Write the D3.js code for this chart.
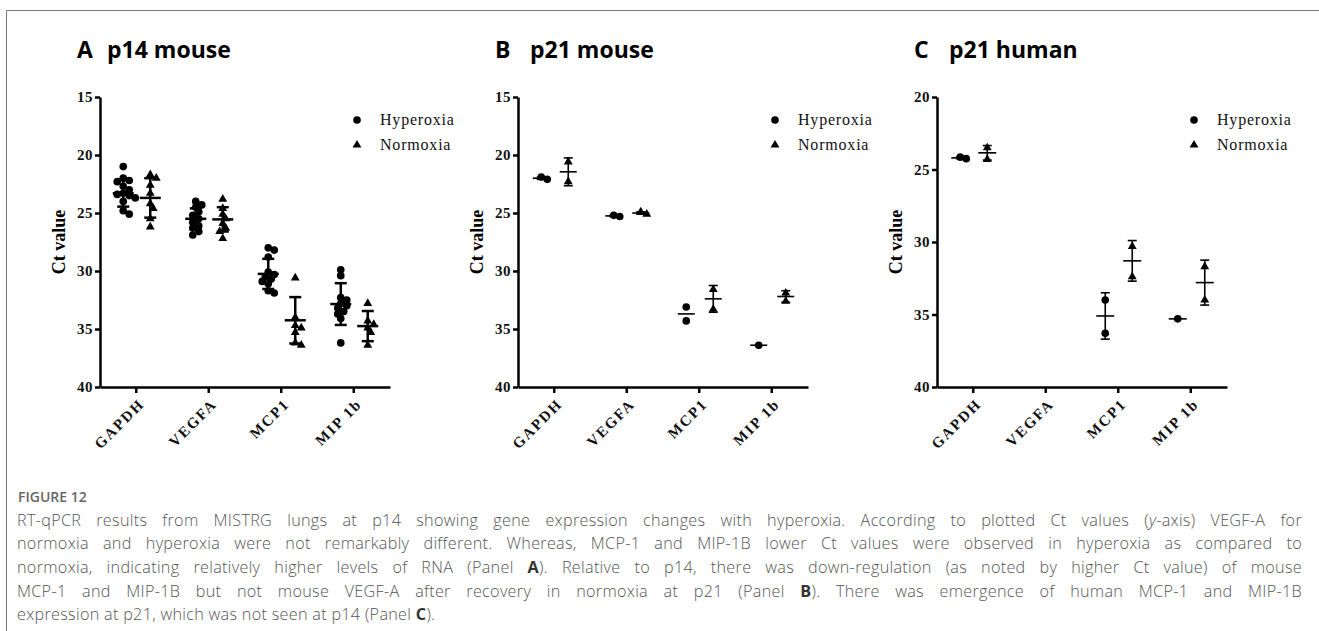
<!DOCTYPE html>
<html>
<head>
<meta charset="utf-8">
<script src="https://cdn.jsdelivr.net/npm/d3@7"></script>
<style>
body { margin: 0; background: #fff; }
svg { display: block; }
</style>
</head>
<body>
<svg id="fig" width="1319" height="631"></svg>
<script>
// categories
const genes = ["GAPDH", "VEGFA", "MCP1", "MIP 1b"];
const groups = ["Hyperoxia", "Normoxia"];

// panel A - p14 mouse (Ct values per gene)
const aHyper = [
  [21.0, 22.0, 22.2, 22.3, 22.7, 23.0, 23.3, 23.4, 23.5, 23.7, 24.0, 24.8, 25.1],
  [24.0, 24.3, 24.5, 24.9, 25.2, 25.5, 25.8, 26.1, 26.3, 26.6, 26.9],
  [28.0, 28.2, 28.8, 30.1, 30.3, 30.5, 30.7, 30.9, 31.1, 31.7, 31.9],
  [29.9, 30.4, 32.3, 32.5, 32.8, 33.0, 33.2, 33.5, 33.7, 34.1, 36.2]
];
const aHyperMean = [23.3, 25.5, 30.25, 32.85];
const aHyperSd = [1.15, 0.9, 1.3, 1.8];
const aNorm = [
  [21.7, 22.0, 22.6, 23.3, 24.2, 24.6, 25.5, 26.2],
  [23.8, 24.6, 25.1, 25.5, 25.9, 26.3, 26.6, 27.2],
  [30.6, 34.0, 34.7, 34.9, 35.3, 36.2, 36.4],
  [32.8, 34.3, 34.6, 34.9, 35.3, 36.4]
];
const aNormMean = [23.7, 25.55, 34.25, 34.75];
const aNormSd = [1.7, 1.05, 2.0, 1.3];

// panel B - p21 mouse
const bHyper = [[21.9, 22.1], [25.2, 25.3], [33.1, 34.3], [36.4]];
const bHyperMean = [22.0, 25.25, 33.7, 36.4];
const bHyperSd = [0.1, 0.05, 0, 0];
const bNorm = [[20.6, 22.3], [24.9, 25.1], [31.6, 33.3], [31.9, 32.6]];
const bNormMean = [21.45, 25.0, 32.4, 32.2];
const bNormSd = [1.2, 0.1, 1.15, 0.5];

// panel C - p21 human (no VEGFA detected)
const cHyper = [[24.15, 24.25], [], [34.0, 36.3], [35.3]];
const cHyperMean = [24.2, null, 35.1, 35.3];
const cHyperSd = [0.05, null, 1.6, 0];
const cNorm = [[23.5, 24.3], [], [30.3, 32.4], [31.7, 34.0]];
const cNormMean = [23.85, null, 31.3, 32.8];
const cNormSd = [0.5, null, 1.4, 1.55];

const ticksA = [15, 20, 25, 30, 35, 40];
const ticksC = [20, 25, 30, 35, 40];

const captionHead = "FIGURE 12";
const captionLines = [
  [["RT-qPCR results from MISTRG lungs at p14 showing gene expression changes with hyperoxia. According to plotted Ct values ("], ["y", "i"], ["-axis) VEGF-A for"]],
  [["normoxia and hyperoxia were not remarkably different. Whereas, MCP-1 and MIP-1B lower Ct values were observed in hyperoxia as compared to"]],
  [["normoxia, indicating relatively higher levels of RNA (Panel "], ["A", "b"], ["). Relative to p14, there was down-regulation (as noted by higher Ct value) of mouse"]],
  [["MCP-1 and MIP-1B but not mouse VEGF-A after recovery in normoxia at p21 (Panel "], ["B", "b"], ["). There was emergence of human MCP-1 and MIP-1B"]],
  [["expression at p21, which was not seen at p14 (Panel "], ["C", "b"], [")."]]
];

const panels = [
  {letter: "A", title: "p14 mouse", x0: 100, ticks: ticksA, hyper: aHyper, hMean: aHyperMean, hSd: aHyperSd,
   norm: aNorm, nMean: aNormMean, nSd: aNormSd, sw: 2.5, meanW: 21, capW: 12, titleGap: 30},
  {letter: "B", title: "p21 mouse", x0: 518, ticks: ticksA, hyper: bHyper, hMean: bHyperMean, hSd: bHyperSd,
   norm: bNorm, nMean: bNormMean, nSd: bNormSd, sw: 1.6, meanW: 17, capW: 9, titleGap: 35},
  {letter: "C", title: "p21 human", x0: 937, ticks: ticksC, hyper: cHyper, hMean: cHyperMean, hSd: cHyperSd,
   norm: cNorm, nMean: cNormMean, nSd: cNormSd, sw: 1.6, meanW: 18, capW: 9, titleGap: 35}
];

const svg = d3.select("#fig");
const serif = "'Liberation Serif', 'Times New Roman', serif";
const sans = "'Open Sans', 'Noto Sans', sans-serif";
const yTop = 97, yBottom = 387, plotW = 290;

// frame
svg.append("line").attr("x1", 6.5).attr("x2", 1319).attr("y1", 10.5).attr("y2", 10.5)
  .attr("stroke", "#777").attr("stroke-width", 1);
svg.append("line").attr("x1", 6.5).attr("x2", 6.5).attr("y1", 10.5).attr("y2", 631)
  .attr("stroke", "#777").attr("stroke-width", 1);

const circleSym = d3.symbol().type(d3.symbolCircle).size(46);
const triSym = d3.symbol().type(d3.symbolTriangle).size(34);

// spread overlapping points sideways, like a scatter dot plot
function spread(vals, y, minD) {
  const pts = vals.map(v => ({v: v, py: y(v)})).sort((a, b) => a.py - b.py);
  const placed = [];
  pts.forEach(d => {
    const cands = [0];
    for (let k = 1; k < 8; k++) cands.push(k * 3, -k * 3);
    d.dx = 0;
    for (const dx of cands) {
      if (placed.every(q => Math.hypot(q.dx - dx, q.py - d.py) >= minD)) { d.dx = dx; break; }
    }
    placed.push(d);
  });
  return pts;
}

function drawPanel(p) {
  const g = svg.append("g");
  const x = d3.scaleBand().domain(genes).range([p.x0, p.x0 + plotW]);
  const y = d3.scaleLinear().domain([p.ticks[0], 40]).range([yTop, yBottom]);

  // title
  g.append("text").attr("x", p.x0 - 23).attr("y", 58).text(p.letter)
    .style("font-family", sans).style("font-weight", 700).style("font-size", "23px");
  g.append("text").attr("x", p.x0 - 23 + p.titleGap).attr("y", 58).text(p.title)
    .style("font-family", sans).style("font-weight", 700).style("font-size", "23px");

  // y axis
  const ya = g.append("g").attr("transform", `translate(${p.x0},0)`)
    .call(d3.axisLeft(y).tickValues(p.ticks).tickSize(5).tickSizeOuter(0).tickPadding(2));
  ya.select(".domain").attr("stroke-width", 2.5);
  ya.selectAll(".tick line").attr("stroke-width", 2.5);
  ya.selectAll(".tick text").style("font-family", serif).style("font-weight", 700)
    .style("font-size", "15px").style("letter-spacing", "0.5px").attr("fill", "#111");

  // x axis
  const xa = g.append("g").attr("transform", `translate(0,${yBottom})`)
    .call(d3.axisBottom(x).tickSize(6).tickSizeOuter(0));
  xa.select(".domain").attr("stroke-width", 2.5);
  xa.selectAll(".tick line").attr("stroke-width", 2.5);
  xa.selectAll(".tick text").attr("y", null).attr("dy", null)
    .attr("text-anchor", "end").attr("transform", "translate(9,18) rotate(-45)")
    .style("font-family", serif).style("font-weight", 700).style("font-size", "15px")
    .style("letter-spacing", "1.8px").attr("fill", "#111");

  // y label
  g.append("text").attr("transform", `translate(${p.x0 - 35},${(yTop + yBottom) / 2}) rotate(-90)`)
    .attr("text-anchor", "middle").text("Ct value")
    .style("font-family", serif).style("font-weight", 700).style("font-size", "18px");

  // groups
  const sets = [
    {vals: p.hyper, mean: p.hMean, sd: p.hSd, off: -13, sym: circleSym},
    {vals: p.norm, mean: p.nMean, sd: p.nSd, off: 14, sym: triSym}
  ];
  sets.forEach(s => {
    genes.forEach((gene, i) => {
      if (s.vals[i].length === 0) return;
      const cx = x(gene) + x.bandwidth() / 2 + s.off;
      const pts = spread(s.vals[i], y, 5.5);
      g.selectAll(null).data(pts).enter().append("path")
        .attr("d", s.sym)
        .attr("transform", d => `translate(${cx + d.dx},${d.py})`)
        .attr("fill", "#000");
      const m = s.mean[i], sd = s.sd[i];
      g.append("line").attr("x1", cx - p.meanW / 2).attr("x2", cx + p.meanW / 2)
        .attr("y1", y(m)).attr("y2", y(m)).attr("stroke", "#000").attr("stroke-width", p.sw);
      if (sd > 0) {
        g.append("line").attr("x1", cx).attr("x2", cx).attr("y1", y(m - sd)).attr("y2", y(m + sd))
          .attr("stroke", "#000").attr("stroke-width", p.sw);
        [m - sd, m + sd].forEach(v => {
          g.append("line").attr("x1", cx - p.capW / 2).attr("x2", cx + p.capW / 2)
            .attr("y1", y(v)).attr("y2", y(v)).attr("stroke", "#000").attr("stroke-width", p.sw);
        });
      }
    });
  });

  // legend
  const lg = g.append("g").attr("transform", `translate(${p.x0 + 257},120)`);
  groups.forEach((name, i) => {
    lg.append("path").attr("d", i === 0 ? circleSym : triSym)
      .attr("transform", `translate(0,${i * 25})`).attr("fill", "#000");
    lg.append("text").attr("x", 23).attr("y", i * 25 + 5).text(name)
      .style("font-family", serif).style("font-size", "16px").style("letter-spacing", "0.8px")
      .attr("fill", "#111");
  });
}

panels.forEach(drawPanel);

// caption
svg.append("text").attr("x", 18).attr("y", 502).text(captionHead)
  .style("font-family", sans).style("font-weight", 600).style("font-size", "14px").attr("fill", "#666");

const capLeft = 17, capRight = 1302;
captionLines.forEach((line, li) => {
  const t = svg.append("text").attr("x", capLeft).attr("y", 525.5 + li * 23.7)
    .style("font-family", sans).style("font-weight", 300).style("font-size", "16.2px")
    .style("letter-spacing", "0.3px").attr("fill", "#555");
  line.forEach(seg => {
    const ts = t.append("tspan").text(seg[0]);
    if (seg[1] === "b") ts.style("font-weight", 700).attr("fill", "#333");
    if (seg[1] === "i") ts.style("font-style", "italic");
  });
  if (li < captionLines.length - 1) {
    const full = line.map(s => s[0]).join("");
    const spaces = (full.match(/ /g) || []).length;
    const len = t.node().getComputedTextLength();
    t.style("word-spacing", ((capRight - capLeft - len) / spaces) + "px");
  }
});
</script>
</body>
</html>
